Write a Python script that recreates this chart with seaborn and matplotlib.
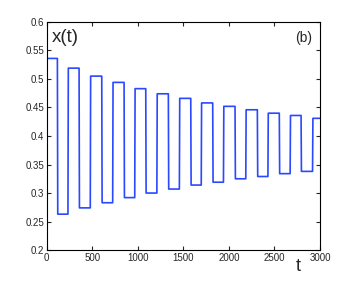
import numpy as np
import pandas as pd
import matplotlib
matplotlib.use("Agg")
import matplotlib.pyplot as plt
import seaborn as sns

# niveles
high_levels = [0.536, 0.519, 0.505, 0.494, 0.483, 0.474, 0.466, 0.458, 0.452, 0.446, 0.440, 0.436, 0.431]
low_levels = [0.263, 0.274, 0.283, 0.292, 0.300, 0.307, 0.314, 0.319, 0.325, 0.329, 0.334, 0.338]
# instantes de cambio
high_starts = [0, 233, 478, 724, 966, 1209, 1456, 1696, 1940, 2185, 2428, 2672, 2918]
low_starts = [117, 355, 604, 849, 1087, 1335, 1581, 1822, 2067, 2312, 2553, 2792]
x0 = 0.263
t_end = 3000
ramp = 4

# construir la serie escalonada
t_pts, x_pts = [0], [x0]
for k, h in enumerate(high_levels):
    t_pts += [high_starts[k] + ramp]
    x_pts += [h]
    if k < len(low_levels):
        t_pts += [low_starts[k], low_starts[k] + ramp]
        x_pts += [h, low_levels[k]]
        t_pts += [high_starts[k + 1]]
        x_pts += [low_levels[k]]
t_pts.append(t_end)
x_pts.append(high_levels[-1])
df = pd.DataFrame({"t": t_pts, "x": x_pts})

sns.set_style("ticks")
plt.rcParams['font.family'] = ['Liberation Sans', 'DejaVu Sans']

fig = plt.figure(figsize=(3.54, 2.81), dpi=100)
ax = fig.add_axes([0.132, 0.110, 0.772, 0.812])
sns.lineplot(data=df, x="t", y="x", color="#2a48ff", linewidth=1.2, ax=ax)

ax.set_xlim(0, 3000)
ax.set_ylim(0.2, 0.6)
ax.set_xticks([0, 500, 1000, 1500, 2000, 2500, 3000])
ax.set_yticks([0.2, 0.25, 0.3, 0.35, 0.4, 0.45, 0.5, 0.55, 0.6])
ax.set_yticklabels(['0.2', '0.25', '0.3', '0.35', '0.4', '0.45', '0.5', '0.55', '0.6'])
ax.tick_params(direction='in', top=True, right=True, labelsize=7, length=3, width=0.8, pad=2)
for s in ax.spines.values():
    s.set_linewidth(0.8)
    s.set_color('black')
ax.set_xlabel('')
ax.set_ylabel('')

ax.text(0.02, 0.93, 'x(t)', transform=ax.transAxes, fontsize=13.5, va='center', ha='left')
ax.text(0.97, 0.93, '(b)', transform=ax.transAxes, fontsize=10, va='center', ha='right')
ax.text(0.92, -0.07, 't', transform=ax.transAxes, fontsize=13, va='center', ha='center')

fig.savefig("out.png", dpi=100)
